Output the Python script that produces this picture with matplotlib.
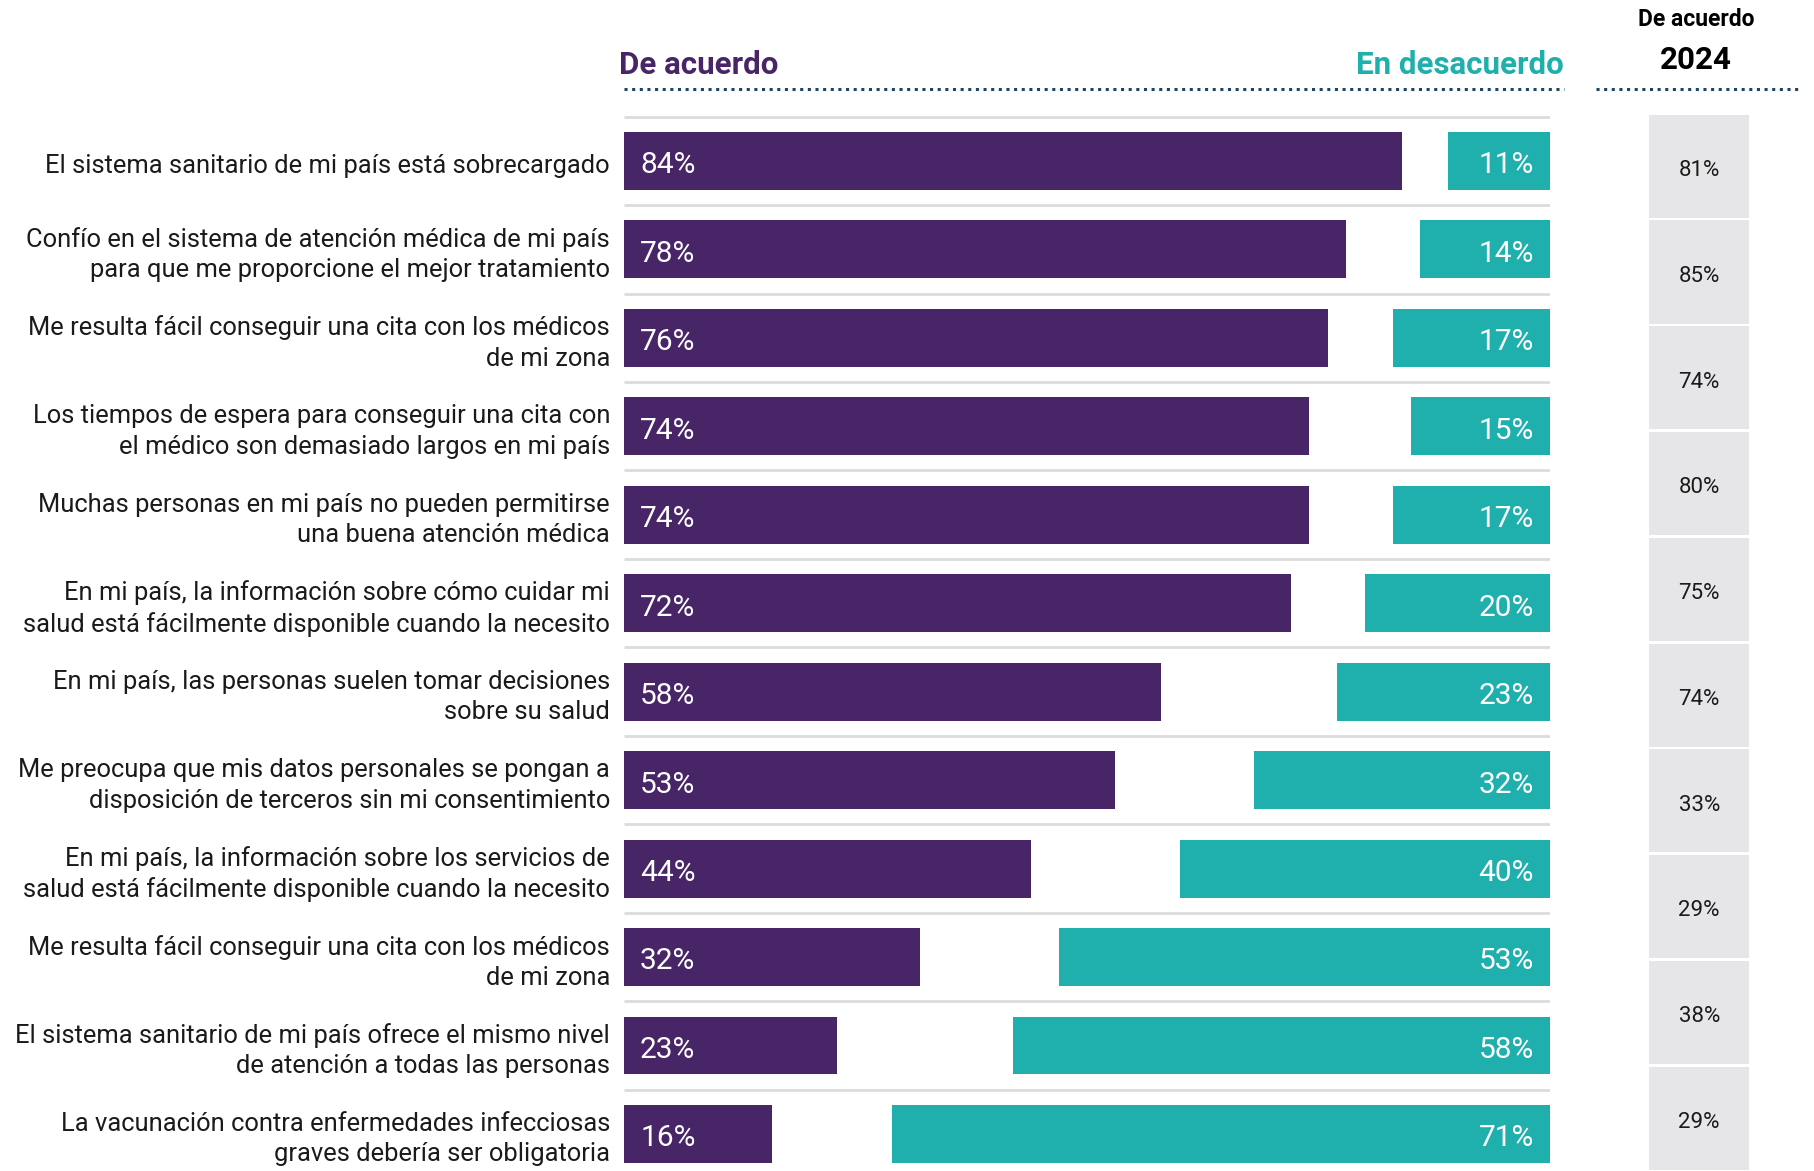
import matplotlib
matplotlib.use("Agg")
import matplotlib.pyplot as plt
from matplotlib.lines import Line2D
import numpy as np

plt.rcParams['font.family'] = ['Roboto', 'DejaVu Sans']

categories = [
    "El sistema sanitario de mi país está sobrecargado",
    "Confío en el sistema de atención médica de mi país\npara que me proporcione el mejor tratamiento",
    "Me resulta fácil conseguir una cita con los médicos\nde mi zona",
    "Los tiempos de espera para conseguir una cita con\nel médico son demasiado largos en mi país",
    "Muchas personas en mi país no pueden permitirse\nuna buena atención médica",
    "En mi país, la información sobre cómo cuidar mi\nsalud está fácilmente disponible cuando la necesito",
    "En mi país, las personas suelen tomar decisiones\nsobre su salud",
    "Me preocupa que mis datos personales se pongan a\ndisposición de terceros sin mi consentimiento",
    "En mi país, la información sobre los servicios de\nsalud está fácilmente disponible cuando la necesito",
    "Me resulta fácil conseguir una cita con los médicos\nde mi zona",
    "El sistema sanitario de mi país ofrece el mismo nivel\nde atención a todas las personas",
    "La vacunación contra enfermedades infecciosas\ngraves debería ser obligatoria",
]
agree = [84, 78, 76, 74, 74, 72, 58, 53, 44, 32, 23, 16]
disagree = [11, 14, 17, 15, 17, 20, 23, 32, 40, 53, 58, 71]
agree_2024 = [81, 85, 74, 80, 75, 74, 33, 29, 38, 29]

PURPLE = "#472567"
TEAL = "#1fb0ae"
DOT = "#1b4560"
GRAY_BOX = "#e6e6e8"
SEP = "#dcdcdc"

W, H = 1568, 1012  # design coordinates (shrunk reference)
fig = plt.figure(figsize=(18.15, 11.71), dpi=100)

def fx(x):
    return x / W

def fy(y):
    return 1 - y / H

# main axes
row0, row_last = 139, 980
step = (row_last - row0) / 11
ytop_row, ybot_row = -1.0, 11.42
top_px = row0 + ytop_row * step
bot_px = row0 + ybot_row * step
ax = fig.add_axes([fx(539), fy(bot_px), fx(1339) - fx(539), fy(top_px) - fy(bot_px)])
ax.set_xlim(0, 100)
ax.set_ylim(ybot_row, ytop_row)
ax.axis("off")

n = len(categories)
y = np.arange(n)
bh = 50 / step
ax.barh(y, agree, height=bh, color=PURPLE, left=0)
ax.barh(y, disagree, height=bh, color=TEAL, left=[100 - d for d in disagree])

for i in range(n):
    ax.plot([0, 100], [i - 0.5, i - 0.5], color=SEP, lw=2, solid_capstyle="butt")
    ax.text(1.75, i + 0.05, f"{agree[i]}%", color="white", fontsize=21.5,
            va="center", ha="left")
    ax.text(98.25, i + 0.05, f"{disagree[i]}%", color="white", fontsize=21.5,
            va="center", ha="right")
    ax.text(-1.5, i + 0.06, categories[i], color="#1a1a1a", fontsize=18.4, va="center",
            ha="right", linespacing=1.33, clip_on=False)

# dotted line and headers
dot_row = (77 - row0) / step
ax.plot([0, 101.5], [dot_row, dot_row], color=DOT, lw=2.2, dashes=(1, 1.5),
        solid_capstyle="butt", dash_capstyle="butt", clip_on=False)
fig.text(fx(535), fy(56), "De acuerdo", color=PURPLE, fontsize=22.5,
         fontweight="bold", ha="left", va="center")
fig.text(fx(1351), fy(56), "En desacuerdo", color=TEAL, fontsize=22.5,
         fontweight="bold", ha="right", va="center")

# 2024 column
fig.text(fx(1465), fy(17), "De acuerdo", color="black", fontsize=16.5,
         fontweight="bold", ha="center", va="center")
fig.text(fx(1465), fy(52), "2024", color="black", fontsize=22.5,
         fontweight="bold", ha="center", va="center")
fig.add_artist(Line2D([fx(1379), fx(1555)], [fy(77), fy(77)], color=DOT, lw=2.2,
                      dashes=(1, 1.5), dash_capstyle="butt"))

ax2 = fig.add_axes([fx(1425), fy(1012), fx(1511) - fx(1425), fy(98) - fy(1012)])
m = len(agree_2024)
ax2.barh(np.arange(m), [1] * m, height=0.975, color=GRAY_BOX)
ax2.set_xlim(0, 1)
ax2.set_ylim(m - 0.5, -0.5)
ax2.axis("off")
for i, v in enumerate(agree_2024):
    ax2.text(0.5, i + 0.04, f"{v}%", color="#1a1a1a", fontsize=16, ha="center", va="center")

fig.savefig("out.png", dpi=100)
